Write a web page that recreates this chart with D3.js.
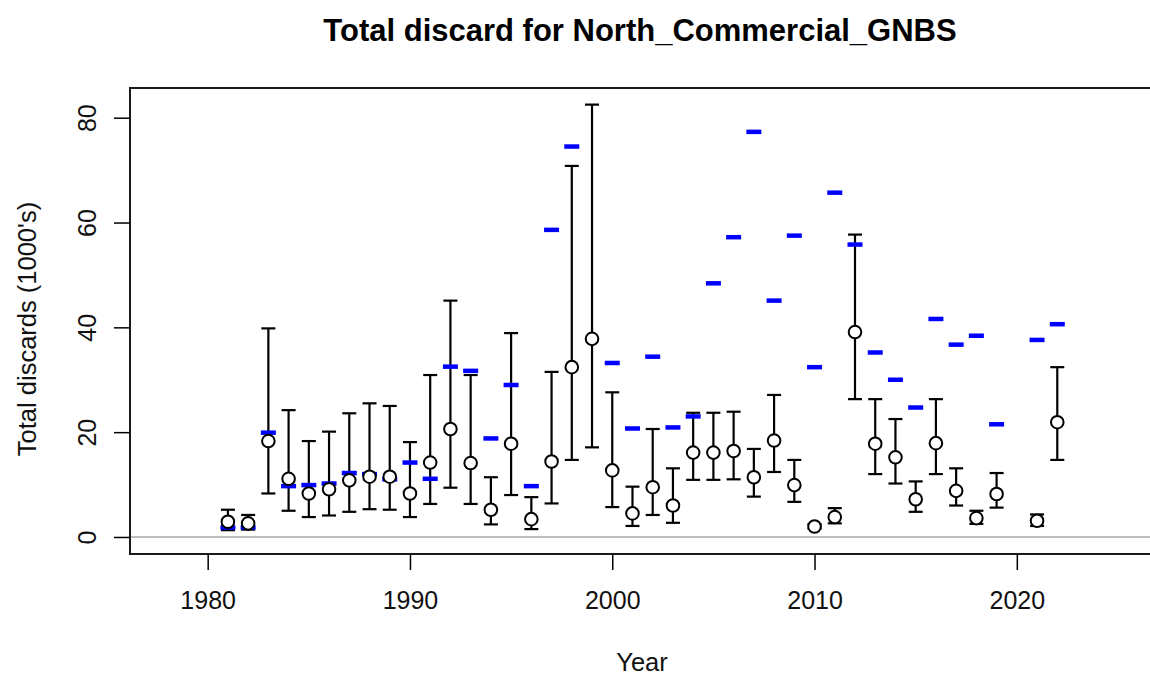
<!DOCTYPE html>
<html>
<head>
<meta charset="utf-8">
<script src="https://cdn.jsdelivr.net/npm/d3@7/dist/d3.min.js"></script>
<style>
  html, body { margin: 0; padding: 0; background: #ffffff; overflow: hidden; }
  svg { display: block; font-family: "Liberation Sans", Arial, Helvetica, sans-serif; }
</style>
</head>
<body>
<svg id="chart" width="1150" height="677"></svg>
<script>
// ---- Data ----
const years    = [1981,1982,1983,1984,1985,1986,1987,1988,1989,1990,1991,1992,1993,1994,1995,1996,1997,1998,1999,2000,2001,2002,2003,2004,2005,2006,2007,2008,2009,2010,2011,2012,2013,2014,2015,2016,2017,2018,2019,2021,2022];
const estimate = [2.9,2.6,18.3,11.1,8.3,9.1,10.8,11.5,11.5,8.3,14.2,20.6,14.1,5.2,17.8,3.4,14.4,32.4,37.8,12.7,4.5,9.5,6.0,16.1,16.1,16.4,11.4,18.4,9.9,2.0,3.8,39.1,17.8,15.2,7.2,17.9,8.8,3.6,8.2,3.1,21.9];
const lower    = [1.3,1.4,8.3,5.0,3.8,4.1,4.8,5.3,5.2,3.8,6.3,9.4,6.3,2.4,8.0,1.5,6.4,14.7,17.1,5.7,2.1,4.2,2.7,10.9,10.9,11.0,7.7,12.4,6.7,1.6,2.6,26.3,12.0,10.2,4.8,12.0,6.0,2.5,5.6,2.1,14.7];
const upper    = [5.2,4.2,39.8,24.2,18.3,20.1,23.6,25.5,25.0,18.1,30.9,45.1,30.9,11.4,38.9,7.6,31.5,70.8,82.5,27.6,9.6,20.6,13.1,23.7,23.7,23.9,16.8,27.1,14.7,2.4,5.5,57.7,26.3,22.5,10.6,26.3,13.1,5.0,12.2,4.3,32.4];
const observed = [1.8,1.8,19.9,9.7,9.9,10.2,12.2,12.0,11.0,14.2,11.1,32.5,31.7,18.8,29.0,9.7,58.6,74.5,null,33.2,20.7,34.4,20.9,23.0,48.4,57.2,77.3,45.1,57.5,32.4,65.7,55.8,35.2,30.0,24.7,41.6,36.7,38.4,21.5,37.6,40.6];
const xTicks = [1980,1990,2000,2010,2020];
const yTicks = [0,20,40,60,80];
const titleText = "Total discard for North_Commercial_GNBS";
const xLabel = "Year";
const yLabel = "Total discards (1000's)";

const rows = years.map((y,i)=>({year:y, est:estimate[i], lo:lower[i], hi:upper[i], obs:observed[i]}));

// ---- Layout ----
const svg = d3.select("#chart");
const plot = {left:130, right:1156, top:88, bottom:554};
const x = d3.scaleLinear().domain([1976.16, 2026.88]).range([plot.left, plot.right]);
const y = d3.scaleLinear().domain([-3.25, 85.67]).range([plot.bottom, plot.top]);

svg.append("rect").attr("width",1150).attr("height",677).attr("fill","#ffffff");

svg.append("clipPath").attr("id","clip").append("rect")
  .attr("x",plot.left).attr("y",plot.top).attr("width",plot.right-plot.left).attr("height",plot.bottom-plot.top);

const g = svg.append("g").attr("clip-path","url(#clip)");

// zero reference line
g.append("line")
  .attr("x1",plot.left).attr("x2",plot.right)
  .attr("y1",y(0)).attr("y2",y(0))
  .attr("stroke","#a8a8a8").attr("stroke-width",1.5);

// error bars
const capW = 7;
const eb = g.append("g").attr("stroke","#000").attr("stroke-width",2.2).attr("fill","none");
eb.selectAll("line.v").data(rows).join("line").attr("class","v")
  .attr("x1",d=>x(d.year)).attr("x2",d=>x(d.year))
  .attr("y1",d=>y(d.lo)).attr("y2",d=>y(d.hi));
eb.selectAll("line.t").data(rows).join("line").attr("class","t")
  .attr("x1",d=>x(d.year)-capW).attr("x2",d=>x(d.year)+capW)
  .attr("y1",d=>y(d.hi)).attr("y2",d=>y(d.hi));
eb.selectAll("line.b").data(rows).join("line").attr("class","b")
  .attr("x1",d=>x(d.year)-capW).attr("x2",d=>x(d.year)+capW)
  .attr("y1",d=>y(d.lo)).attr("y2",d=>y(d.lo));

// blue observed dashes
g.append("g").selectAll("line").data(rows.filter(d=>d.obs!==null)).join("line")
  .attr("x1",d=>x(d.year)-7.5).attr("x2",d=>x(d.year)+7.5)
  .attr("y1",d=>y(d.obs)).attr("y2",d=>y(d.obs))
  .attr("stroke","#0000ff").attr("stroke-width",4.5);

// circles
g.append("g").selectAll("circle").data(rows).join("circle")
  .attr("cx",d=>x(d.year)).attr("cy",d=>y(d.est)).attr("r",6.3)
  .attr("fill","#ffffff").attr("stroke","#000").attr("stroke-width",2);

// frame
svg.append("rect")
  .attr("x",plot.left).attr("y",plot.top)
  .attr("width",plot.right-plot.left).attr("height",plot.bottom-plot.top)
  .attr("fill","none").attr("stroke","#1a1a1a").attr("stroke-width",2);

// x axis
const xAxis = svg.append("g").attr("transform",`translate(0,${plot.bottom})`)
  .call(d3.axisBottom(x).tickValues(xTicks).tickFormat(d3.format("d")).tickSize(16).tickPadding(21));
xAxis.select(".domain").remove();
xAxis.selectAll(".tick line").attr("stroke","#000").attr("stroke-width",1.5);
xAxis.selectAll(".tick text").attr("font-size",25).attr("fill","#111").attr("font-family","Liberation Sans, Arial, sans-serif");

// y axis
const yAxis = svg.append("g").attr("transform",`translate(${plot.left},0)`)
  .call(d3.axisLeft(y).tickValues(yTicks).tickSize(16).tickPadding(8));
yAxis.select(".domain").remove();
yAxis.selectAll(".tick line").attr("stroke","#000").attr("stroke-width",1.5);
yAxis.selectAll(".tick text")
  .attr("font-size",25).attr("fill","#111").attr("font-family","Liberation Sans, Arial, sans-serif")
  .attr("x",null).attr("dy",null)
  .attr("text-anchor","middle")
  .attr("transform","translate(-34,0) rotate(-90)")
  .attr("dominant-baseline","alphabetic");

// title
svg.append("text").attr("x",640).attr("y",41)
  .attr("text-anchor","middle").attr("font-size",31).attr("font-weight","bold").attr("fill","#000")
  .text(titleText);

// axis labels
svg.append("text").attr("x",642).attr("y",671)
  .attr("text-anchor","middle").attr("font-size",25.5).attr("fill","#111").text(xLabel);
svg.append("text").attr("transform",`translate(36,${(plot.top+plot.bottom)/2 + 8}) rotate(-90)`)
  .attr("text-anchor","middle").attr("font-size",25.5).attr("fill","#111").text(yLabel);
</script>
</body>
</html>
